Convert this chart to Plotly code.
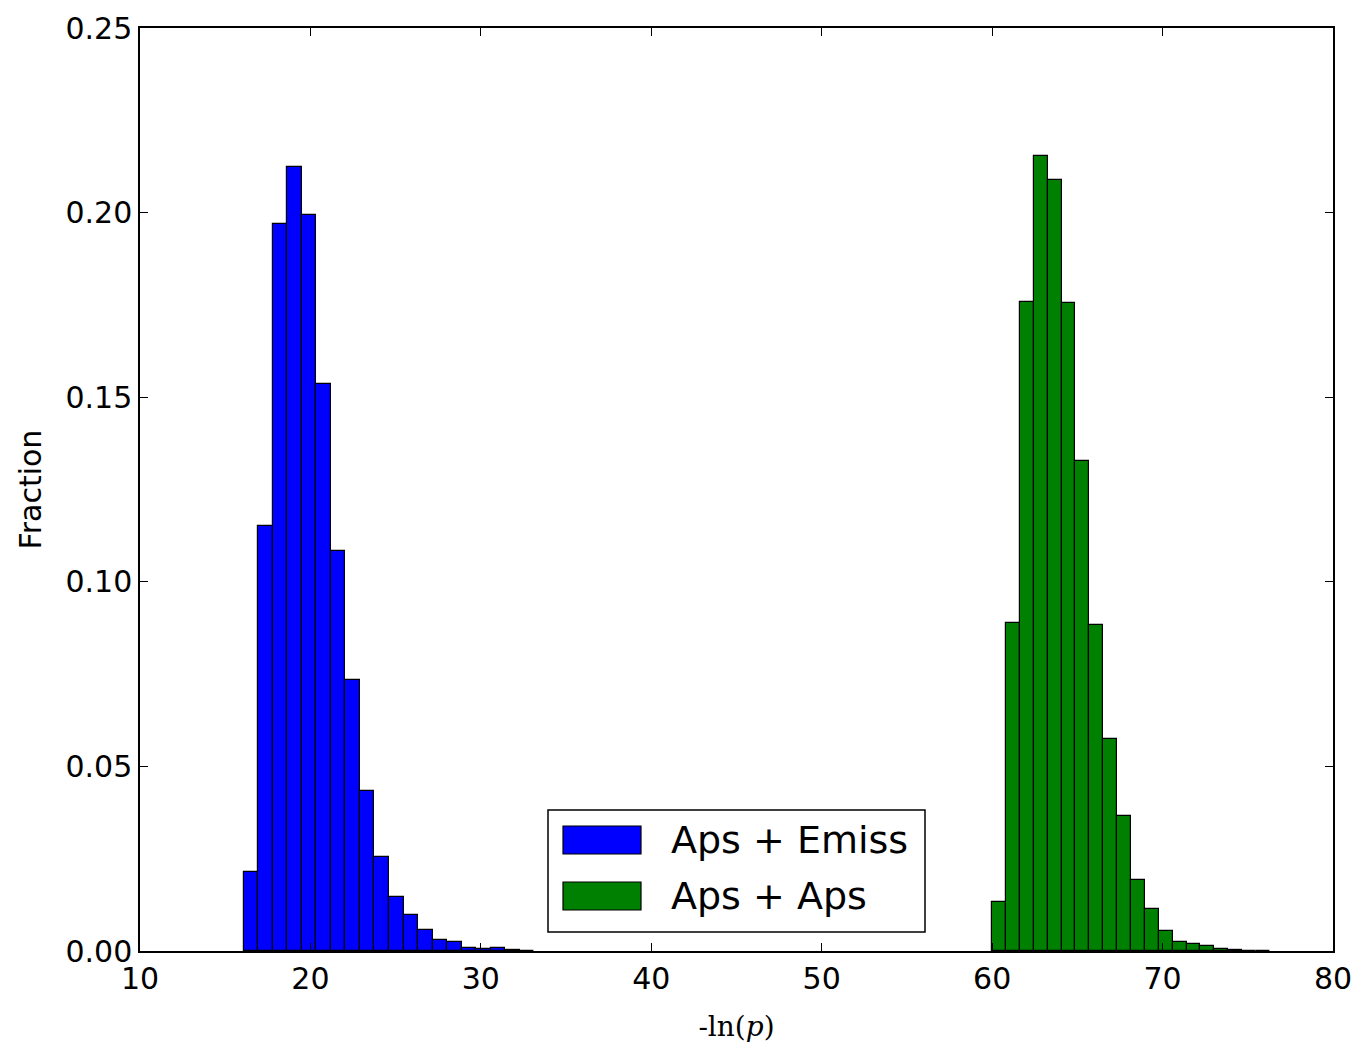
import plotly.graph_objects as go

# Histogram data (fractions per bin)
blue_start = 16.1
blue_width = 0.851
blue_frac = [0.0214, 0.1150, 0.1969, 0.2124, 0.1994, 0.1536, 0.1083, 0.0734, 0.0433,
             0.0255, 0.0145, 0.0097, 0.0056, 0.0031, 0.0024, 0.0009, 0.0005, 0.0009,
             0.0002, 0.0001]

green_start = 60.0
green_width = 0.815
green_frac = [0.0134, 0.0888, 0.1758, 0.2154, 0.2088, 0.1754, 0.1327, 0.0884, 0.0573,
              0.0365, 0.0191, 0.0113, 0.0055, 0.0025, 0.0018, 0.0013, 0.0005, 0.0002,
              0.0001, 0.0001]

series_names = ["Aps + Emiss", "Aps + Aps"]
series_colors = ["#0000ff", "#008000"]

x_ticks = [10, 20, 30, 40, 50, 60, 70, 80]
y_ticks = [0.00, 0.05, 0.10, 0.15, 0.20, 0.25]

blue_x = [blue_start + (i + 0.5) * blue_width for i in range(len(blue_frac))]
green_x = [green_start + (i + 0.5) * green_width for i in range(len(green_frac))]

fig = go.Figure()
fig.add_trace(go.Bar(x=blue_x, y=blue_frac, width=blue_width, name=series_names[0],
                     marker=dict(color=series_colors[0], line=dict(color="black", width=1.2))))
fig.add_trace(go.Bar(x=green_x, y=green_frac, width=green_width, name=series_names[1],
                     marker=dict(color=series_colors[1], line=dict(color="black", width=1.2))))

font_fam = "DejaVu Sans"

# Plot area geometry (pixels) used to place the matplotlib-style legend
L, R, T, B = 140, 1333, 28, 951
W, H = R - L, B - T
def px(x):
    return (x - L) / W
def py(y):
    return (B - y) / H

shapes = [
    # legend frame
    dict(type="rect", xref="paper", yref="paper", x0=px(548), x1=px(925), y0=py(932), y1=py(810),
         line=dict(color="black", width=1.5), fillcolor="white", layer="above"),
]
annotations = []
for i, (nm, col) in enumerate(zip(series_names, series_colors)):
    yc = 840 + i * 56
    shapes.append(dict(type="rect", xref="paper", yref="paper",
                       x0=px(563), x1=px(641), y0=py(yc + 14), y1=py(yc - 14),
                       line=dict(color="black", width=1.2), fillcolor=col, layer="above"))
    annotations.append(dict(xref="paper", yref="paper", x=px(669), y=py(yc), text=nm,
                            showarrow=False, xanchor="left", yanchor="middle",
                            font=dict(size=38, family=font_fam, color="black")))

fig.update_layout(
    width=1356, height=1050,
    margin=dict(l=L, r=1356 - R, t=T, b=1050 - B),
    paper_bgcolor="white", plot_bgcolor="white",
    barmode="overlay", bargap=0,
    font=dict(family=font_fam, size=30, color="black"),
    showlegend=False,
    shapes=shapes,
    annotations=annotations,
)
fig.update_xaxes(range=[10, 80], tickvals=x_ticks, ticktext=[str(v) for v in x_ticks],
                 ticks="inside", ticklen=8, tickwidth=1, tickcolor="black",
                 showline=True, linecolor="black", linewidth=1.5, mirror="ticks",
                 showgrid=False, zeroline=False, automargin=False,
                 tickfont=dict(size=30, family=font_fam),
                 title=dict(text="-ln(<i>p</i>)", font=dict(family="DejaVu Serif", size=28),
                            standoff=22))
fig.update_yaxes(range=[0, 0.25], tickvals=y_ticks, ticktext=["%.2f" % v for v in y_ticks],
                 ticks="inside", ticklen=8, tickwidth=1, tickcolor="black",
                 showline=True, linecolor="black", linewidth=1.5, mirror="ticks",
                 showgrid=False, zeroline=False, automargin=False,
                 tickfont=dict(size=30, family=font_fam),
                 title=dict(text="Fraction", font=dict(size=30, family=font_fam), standoff=15))

fig.write_html("out.html")
